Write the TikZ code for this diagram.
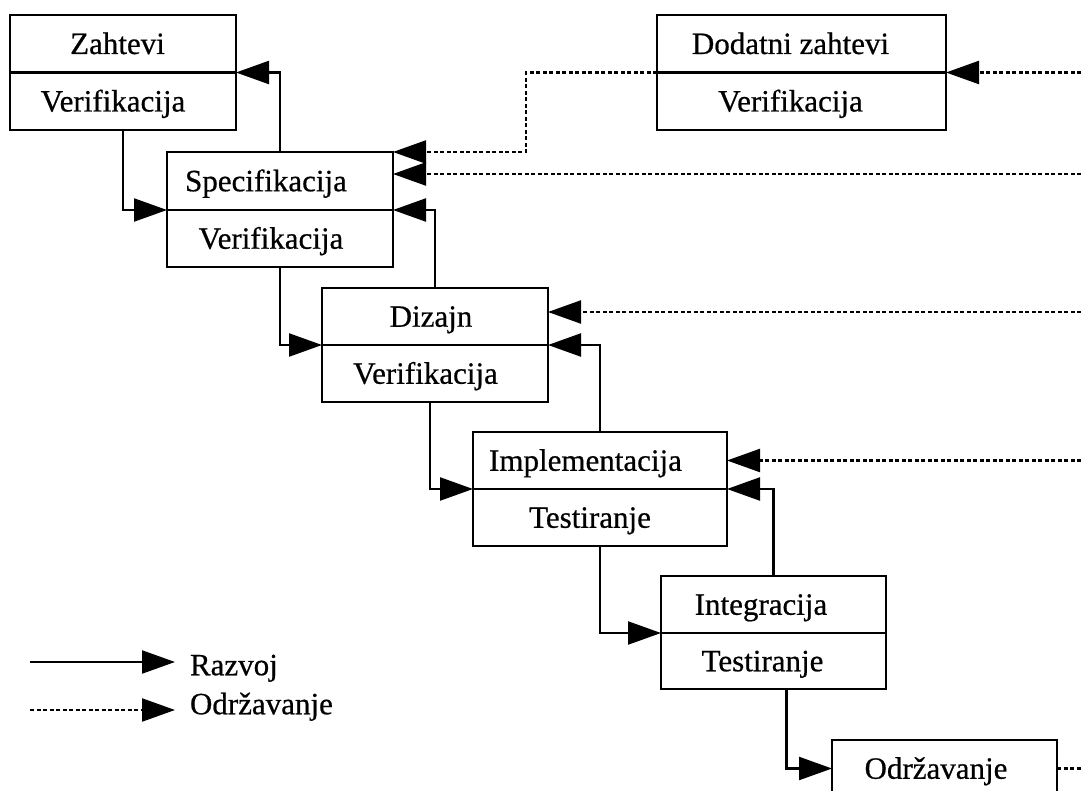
\documentclass[tikz,border=0pt]{standalone}
\usepackage{fontspec}
\setmainfont{Liberation Serif}[FakeBold=0.6]
\newfontfamily\heavyserif{Liberation Serif}[FakeBold=0.6]
\usetikzlibrary{arrows.meta}

% trailing space that nudges a centred label to the left
\newcommand{\lft}[1]{\hspace*{#1pt}}

\begin{document}
\begin{tikzpicture}[x=1pt,y=-1pt,
  txt/.style={inner sep=0pt, outer sep=0pt, text height=20.5pt, text depth=0pt,
    font=\heavyserif\fontsize{31}{36}\selectfont},
  cell/.style={txt, draw, line width=2.3pt, anchor=north west},
  dev/.style={line width=2.3pt, -{Triangle[length=33pt,width=23pt]}},
  mntline/.style={line width=2.3pt, dash pattern=on 4pt off 2.5pt},
  mnt/.style={mntline, -{Triangle[length=33pt,width=23pt]}},
]
\useasboundingbox (0,0) rectangle (1081,791);

% stage boxes: upper cell = activity, lower cell = check
\node[cell, minimum width=226pt, minimum height=57.5pt] (zahT) at (10,15) {Zahtevi\lft{11}};
\node[cell, minimum width=226pt, minimum height=57.5pt] (zahB) at (zahT.south west) {Verifikacija\lft{20}};

\node[cell, minimum width=289pt, minimum height=57.5pt] (dodT) at (657,15) {Dodatni zahtevi\lft{22}};
\node[cell, minimum width=289pt, minimum height=57.5pt] (dodB) at (dodT.south west) {Verifikacija\lft{22}};

\node[cell, minimum width=226pt, minimum height=58pt] (specT) at (167,152) {Specifikacija\lft{28}};
\node[cell, minimum width=226pt, minimum height=57pt] (specB) at (specT.south west) {Verifikacija\lft{18}};

\node[cell, minimum width=226pt, minimum height=57pt] (dizT) at (322,288) {Dizajn\lft{8}};
\node[cell, minimum width=226pt, minimum height=57pt] (dizB) at (dizT.south west) {Verifikacija\lft{19}};

\node[cell, minimum width=254pt, minimum height=57pt] (implT) at (473,432) {Implementacija\lft{29}};
\node[cell, minimum width=254pt, minimum height=57pt] (implB) at (implT.south west) {Testiranje\lft{20}};

\node[cell, minimum width=225pt, minimum height=57pt] (intT) at (661,576) {Integracija\lft{25}};
\node[cell, minimum width=225pt, minimum height=56pt] (intB) at (intT.south west) {Testiranje\lft{22}};

\node[cell, minimum width=225pt, minimum height=57pt] (odr) at (832,740) {Održavanje\lft{17}};

% development flow (down the cascade) and feedback (back up)
\draw[dev] (zahB.south) |- (specB.north west);
\draw[dev] (specT.north) |- (zahB.north east);
\draw[dev] (specB.south) |- (dizB.north west);
\draw[dev] (dizT.north) |- (specB.north east);
\draw[dev] ([xshift=-5pt]dizB.south) |- (implB.north west);
\draw[dev] (implT.north) |- (dizB.north east);
\draw[dev] (implB.south) |- (intB.north west);
\draw[dev] (intT.north) |- (implB.north east);
\draw[dev] ([xshift=13pt]intB.south) |- (odr.west);

% maintenance flow from the right margin
\coordinate (rim) at (1081,0);
\coordinate (bend) at (526,0);
\coordinate (specIn) at ([yshift=7pt]specT.east);
\coordinate (dizIn) at ([yshift=4.5pt]dizT.east);
\draw[mnt] (rim |- dodB.north east) -- (dodB.north east);
\draw[mnt] (dodB.north west) -| (bend |- specT.north east) -- (specT.north east);
\draw[mnt] (rim |- specIn) -- (specIn);
\draw[mnt] (rim |- dizIn) -- (dizIn);
\draw[mnt] (rim |- implT.east) -- (implT.east);
\draw[mntline] (odr.east) -- (rim |- odr.east);

% legend
\coordinate (la1) at (30,662);
\coordinate (lb1) at (175,662);
\coordinate (la2) at (30,710);
\coordinate (lb2) at (175,710);
\node[txt, anchor=west] (lt1) at (190,665) {Razvoj};
\node[txt, anchor=west] (lt2) at (190,704) {Održavanje};
\draw[dev] (la1) -- (lb1);
\draw[mnt] (la2) -- (lb2);
\end{tikzpicture}
\end{document}
